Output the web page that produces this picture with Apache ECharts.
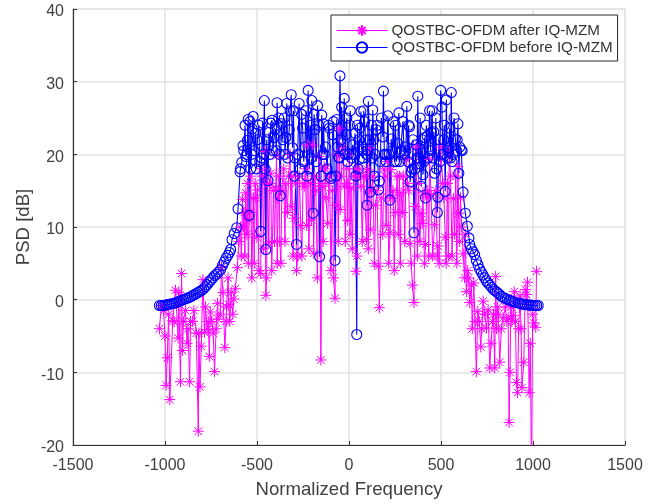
<!DOCTYPE html>
<html><head><meta charset="utf-8">
<script src="https://cdn.jsdelivr.net/npm/echarts@6/dist/echarts.min.js"></script>
<style>html,body{margin:0;padding:0;background:#fff}#c{width:659px;height:504px}</style>
</head><body><div id="c"></div>
<script>
const afterFreq=[-1030,-1020,-1008,-994,-988,-974,-958,-943,-929,-925,-916,-910,-900,-889,-875,-866,-861,-843,-830,-819,-816,-803,-794,-785,-771,-759,-754,-745,-738,-731,-714,-712,-693,-685,-675,-665,-657,-653,-640,-626,-618,-607,-598,-590,-579,-570,-561,-552,-543,-534,-520,-510,-501,-497,-480,-470,-458,-452,-443,-436,-425,-410,-398,-394,-385,-376,-365,-343,-335,-320,-316,-298,-285,-270,-262,-250,-243,-230,-225,-210,-198,-192,-180,-162,-153,-145,-135,-125,-116,-105,-90,-76,-65,-53,-48,-34,-25,-14,-7,3,11,25,38,50,65,80,96,100,110,116,130,145,160,165,175,190,202,210,223,229,240,251,262,274,283,295,311,325,332,338,353,360,365,378,392,398,402,416,428,438,446,465,480,483,498,510,523,535,545,552,568,580,592,596,606,620,628,638,656,665,678,692,700,716,729,747,756,765,780,792,797,808,819,838,850,865,870,880,892,898,910,916,930,940,950,958,965,970,979,992,1004,1015,1019];
const afterPsd=[-4,-0.8,-1.5,-11.8,-8,-13.75,-2.9,1.3,-5.3,1,-11.3,3.6,-3,-1.5,-4,-11.3,-3,-1.5,-4.6,-18.1,-4.6,-6.4,2.75,-4.5,-4.1,-7.8,-1.7,-3,-4.6,-9.9,-0.5,-2.7,4.4,1,-6.6,-1,3,-0.7,1,0.1,1.5,4.4,8,10,13.8,12,14.7,16,11,17,14,16,8.6,15.1,3.6,17,20.4,0.6,15.8,7.8,17.4,15,15.4,19.8,14,8,15,16,12,20,12.8,11.2,4,17,10.2,16,15.6,10.2,21.3,16,21.3,6.4,15,19.7,-8.3,15.6,18.3,14,10.5,17,15,0.2,20,23.6,12.4,20.9,15.6,18,10.9,20,15.4,17,3.9,17,15.6,17,8.3,17.9,20.9,9.6,17,13,4.6,-1.1,14,18,10.2,19,9.2,17.9,15,12,17,17,14.7,17,19.3,15,7.7,5,-0.4,12.8,21,16,11.9,10.5,14.7,7.6,15,19.3,14.4,10.3,6,7.4,21,16,8.6,16,20.2,17,13.9,17,18.3,11.9,14,6.3,3,1.1,-0.4,2,2.3,-9.9,-1.6,-6.5,-0.2,-3.9,-1.4,-9.4,-3,-9.4,3.2,-1,-8.6,-2.5,-1,-2.5,-16.9,-1,-2.2,1.1,-11.4,-12.8,0.5,-12.1,-8.6,1.4,0.7,2.4,-12.8,-24,-3.2,-3.8,3.9];
const afterFreqMore=[-1000,-980,-950,-905,-880,-850,-810,-780,-765,-722,-700,-668,-648,-632,-585,-574,-566,-555,-547,-538,-528,-515,-505,-490,-475,-465,-448,-432,-420,-405,-390,-380,-370,-355,-348,-328,-310,-304,-290,-278,-256,-237,-218,-204,-186,-172,-158,-140,-130,-110,-98,-84,-70,-58,-42,-20,-10,5,18,31,44,58,72,88,105,123,138,152,183,196,216,235,246,268,279,290,303,318,345,372,385,410,422,433,455,472,490,516,528,540,560,574,586,600,613,632,645,651,670,685,708,722,738,772,785,802,812,828,858,875,885,905,922,935,985,998];
const afterPsdMore=[-5,-2,-3,-7,-6,-3,-12,-1,-3,-4,-2,-3,-3,-2,6,10,6,9,5,12,3,5,14,4,18,7,3,16,4,8,5,17,5,18,8,17,17,6,16,6,6,18,7,11,17,3,16,8,18,16,4,3,13,8,17,8,16,9,7,18,6,18,8,17,7,15,5,15,9,17,5,14,4,9,5,12,8,16,2,6,8,5,14,6,6,15,5,14,5,6,6,9,5,8,10,9,4,3,-4,-3,-3,-4,-2,-6,-2,-4,-2,-4,-3,-10,-3,-3,-4,-4,-6,-2];
const beforeFreq=[-1030,-1020,-1010,-1000,-990,-980,-970,-960,-950,-940,-930,-920,-910,-900,-890,-880,-870,-860,-850,-840,-830,-820,-810,-800,-790,-780,-771,-760,-750,-740,-730,-720,-710,-698,-688,-678,-668,-658,-650,-643,-636,-624,-610,-603,-592,-583,-576,-561,-552,-543,-538,-530,-521,-507,-498,-480,-470,-460,-452,-440,-425,-407,-391,-382,-374,-360,-343,-338,-325,-314,-307,-293,-285,-271,-252,-240,-228,-222,-211,-202,-195,-185,-171,-160,-148,-138,-134,-107,-98,-89,-76,-67,-56,-49,-40,-26,-16,-7,7,20,33,42,50,56,60,65,72,80,90,98,105,116,122,129,138,147,160,165,184,187,195,202,211,223,229,241,247,265,271,280,293,305,314,329,332,338,353,365,374,383,392,402,411,416,425,432,438,448,461,465,480,483,498,505,515,523,529,538,547,556,565,578,592,597,610,620,632,643,652,656,665,674,683,692,701,710,719,728,737,746,755,765,775,785,795,805,815,828,840,850,860,870,880,890,900,919,930,940,950,960,970,980,990,1000,1010,1020,1028];
const beforePsd=[-0.8,-0.8,-0.8,-0.75,-0.7,-0.65,-0.6,-0.55,-0.5,-0.4,-0.3,-0.2,-0.1,0,0.1,0.2,0.3,0.4,0.55,0.7,0.85,1,1.15,1.3,1.5,1.8,2.06,2.4,2.7,3,3.3,3.5,3.8,4.1,4.7,5.2,5.7,6.1,6.5,6.9,8.25,9.1,9.9,12.5,17.6,18.9,21.2,19.7,21.9,11.6,24.5,20,25.2,22.9,22,9.4,24.3,27.4,6.9,16.4,24.3,22.3,27.1,25,14.3,22,22.3,27,23.4,28.2,20.9,19.5,7.6,27,23.6,21,17,28.8,24,27.4,11.9,23.4,26.7,5.9,25.4,24.2,20,23.6,16.7,22.7,5.4,24.8,19.6,30.8,26.5,27.7,22.7,19,26,21.3,22.9,-4.8,18,19.3,23.6,25.9,21,26,22,13,27.3,14.8,24,26.1,17,23.4,15.1,16.3,22.4,28.7,20,19,25.3,13.7,22.1,24.5,19,21.5,25.7,20.3,24.5,21,26.6,23.8,16.2,17.6,9.2,21.3,28,18.7,15.6,17.2,22.3,14,22.5,21,26,23,23.1,17.4,12,14.1,28.8,26.5,22,14.9,27.5,20.9,23.6,28.5,20,22.1,24.2,17.4,20.6,14.8,11.9,10.1,8.5,7.6,7,6.6,6.2,5.4,4.8,4.2,3.8,3.4,3,2.6,2.3,2,1.7,1.4,1.2,1,0.8,0.45,0.3,0.15,0.05,-0.05,-0.15,-0.25,-0.35,-0.45,-0.55,-0.6,-0.65,-0.7,-0.7,-0.75,-0.75,-0.8,-0.8,-0.8,-0.8];
const beforeFreqMore=[-590,-572,-565,-556,-548,-534,-526,-516,-503,-490,-485,-475,-465,-456,-447,-435,-430,-418,-413,-400,-395,-386,-378,-368,-352,-348,-333,-320,-302,-297,-279,-265,-258,-246,-234,-216,-206,-190,-178,-165,-152,-143,-128,-118,-112,-94,-84,-71,-62,-52,-44,-33,-21,-12,-2,3,13,26,37,46,54,69,76,85,94,101,111,126,134,142,153,170,176,192,206,217,236,252,258,276,286,300,309,320,324,344,348,358,370,378,387,397,407,420,428,443,452,456,472,476,489,494,510,518,534,542,552,560,571,584,588,602,615];
const beforePsdMore=[18,20.5,24,20,24.8,18,23.5,20.5,18,24,19,19.5,20,18,22,23,20,24.7,20.5,23.5,20.5,24,20,24.2,25,20,19.5,26,26,17,20,18,25.5,19,26,18,19.5,25.5,19,24,17,20,21,18,24,17,24.5,17,21,19.5,22,20.5,20,25,20,24,19.5,20,17,24,22,20.5,19.5,24.5,20,20.5,22,19.5,22,20,24,19,25,20,20,20,20.5,24,19,19,20.5,20,20.5,19,24,18,22,18,19.5,19.5,25,22,19,24,19.5,20.5,26,19.5,25,18,22,19,20,24,19.5,20.5,19.5,19,25,20.5,22,21,20.5];
const xTicks=[-1500,-1000,-500,0,500,1000,1500];
const yTicks=[-20,-10,0,10,20,30,40];
const seriesNames=['QOSTBC-OFDM after IQ-MZM','QOSTBC-OFDM before IQ-MZM'];
const seriesColors=['#ff00ff','#0000ff'];

const zip=(a,b)=>a.map((v,i)=>[v,b[i]]);
const merged=(f1,p1,f2,p2)=>zip(f1,p1).concat(zip(f2,p2)).sort((p,q)=>p[0]-q[0]);
const font='"Liberation Sans", Arial, sans-serif';
const textColor='#404040';
const star='path://M5 0L5 10M0 5L10 5M1.5 1.5L8.5 8.5M1.5 8.5L8.5 1.5';
const chart=echarts.init(document.getElementById('c'),null,{renderer:'canvas'});
const axisBase={
  axisLine:{show:true,onZero:false,lineStyle:{color:'#333333',width:1.2}},
  axisTick:{show:true,inside:true,length:4,lineStyle:{color:'#333333',width:1}},
  splitLine:{show:true,lineStyle:{color:'#e2e2e2',width:1.5}},
  nameLocation:'middle',
  nameMoveOverlap:false,
  nameTextStyle:{fontFamily:font,fontSize:18.6,color:textColor},
};
chart.setOption({
  animation:false,
  backgroundColor:'#ffffff',
  grid:{left:73,right:34,top:9,bottom:59,show:true,borderColor:'#dddddd',borderWidth:1,backgroundColor:'transparent'},
  legend:{
    left:331,top:15,orient:'vertical',padding:[8,5,6,5],itemGap:2,itemWidth:51,itemHeight:13,
    backgroundColor:'#ffffff',borderColor:'#262626',borderWidth:1,borderRadius:0,
    textStyle:{fontFamily:font,fontSize:15.2,color:'#333333',padding:[0,0,0,-1]},
    data:seriesNames.map((n,i)=>({name:n,lineStyle:{color:seriesColors[i],width:1}})),
  },
  xAxis:Object.assign({type:'value',min:xTicks[0],max:xTicks[xTicks.length-1],interval:500,name:'Normalized Frequency',nameGap:35,
    axisLabel:{fontFamily:font,fontSize:16,color:textColor,margin:13,formatter:v=>String(v)}},axisBase),
  yAxis:Object.assign({type:'value',min:yTicks[0],max:yTicks[yTicks.length-1],interval:10,name:'PSD [dB]',nameGap:40,
    axisLabel:{margin:9,formatter:v=>'{a|'+v+'}',rich:{a:{fontFamily:font,fontSize:16,color:textColor,padding:[6,0,0,0]}}}},axisBase),
  series:[
    {name:seriesNames[0],type:'line',data:merged(afterFreq,afterPsd,afterFreqMore,afterPsdMore),clip:true,showSymbol:true,showAllSymbol:true,
     symbol:star,symbolSize:11,lineStyle:{color:seriesColors[0],width:1},
     itemStyle:{color:'transparent',borderColor:seriesColors[0],borderWidth:1},emphasis:{disabled:true}},
    {name:seriesNames[1],type:'line',data:merged(beforeFreq,beforePsd,beforeFreqMore,beforePsdMore),clip:true,showSymbol:true,showAllSymbol:true,
     symbol:'circle',symbolSize:10,lineStyle:{color:seriesColors[1],width:1.1},
     itemStyle:{color:'transparent',borderColor:seriesColors[1],borderWidth:1.1},emphasis:{disabled:true}},
  ],
});
</script></body></html>
